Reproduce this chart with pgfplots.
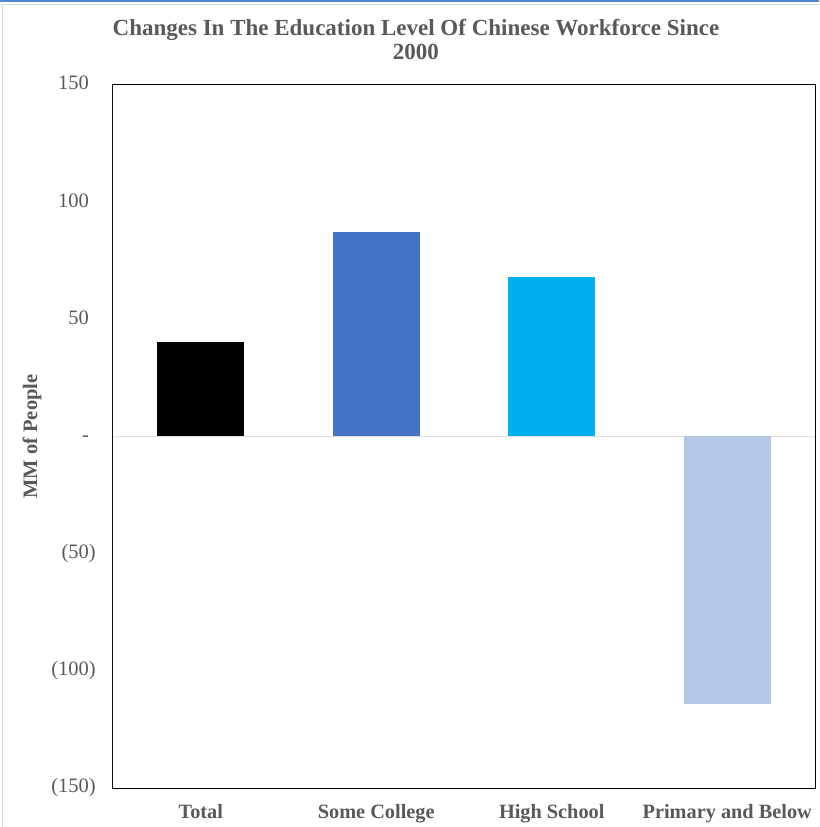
\documentclass[border=0pt]{standalone}
\usepackage{fontspec}
\setmainfont{Liberation Serif}
\usepackage{pgfplots}
\pgfplotsset{compat=1.18}
\definecolor{txt}{HTML}{595959}
\definecolor{cCol}{HTML}{4472C4}
\definecolor{cHS}{HTML}{00B0F0}
\definecolor{cPr}{HTML}{B4C7E7}
\begin{document}
\begin{tikzpicture}
\useasboundingbox (-113pt,-39pt) rectangle (706pt,788pt);
\fill[white] (-113pt,-39pt) rectangle (706pt,788pt);
\draw[black!15, line width=1pt] (-110pt,-39pt) -- (-110pt,783pt) -- (706pt,783pt);
\draw[color={rgb,255:red,74;green,134;blue,200}, line width=2pt] (-113pt,787pt) -- (706pt,787pt);
\begin{axis}[
  scale only axis,
  width=702pt, height=703pt,
  xmin=-0.5, xmax=3.5,
  ymin=-150, ymax=150,
  ytick={-150,-100,-50,0,50,100,150},
  yticklabels={(150),(100),(50),{-\phantom{)}},{50\phantom{)}},{100\phantom{)}},{150\phantom{)}}},
  xtick={0,1,2,3},
  xticklabels={Total,Some College,High School,Primary and Below},
  major tick length=0pt,
  tick style={draw=none},
  axis line style={black, line width=1pt},
  yticklabel style={font=\fontsize{20.5}{22}\selectfont\color{txt}, anchor=east, inner sep=0pt, xshift=-17pt},
  xticklabel style={font=\bfseries\fontsize{20.3}{22}\selectfont\color{txt}, anchor=north, inner sep=0pt, yshift=-16pt},
  ylabel={MM of People},
  ylabel style={font=\bfseries\fontsize{20.5}{22}\selectfont\color{txt}, at={(axis description cs:-0.1154,0.5)}, anchor=center},
  title={Changes In The Education Level Of Chinese Workforce Since\\2000},
  title style={font=\bfseries\fontsize{23}{24}\selectfont\color{txt}, align=center, at={(axis description cs:0.4316,1)}, anchor=south, yshift=16pt},
  extra y ticks={0},
  extra y tick labels={},
  extra y tick style={grid=major, major grid style={draw=black!12, line width=1.5pt}},
  ybar, bar shift=0pt, bar width=87pt,
]
\addplot[fill=black, draw=none] coordinates {(0,40.5)};
\addplot[fill=cCol, draw=none] coordinates {(1,87.1)};
\addplot[fill=cHS, draw=none] coordinates {(2,67.9)};
\addplot[fill=cPr, draw=none] coordinates {(3,-114)};
\draw[black!50, line width=1pt] (rel axis cs:0,0) -- (rel axis cs:0,1);
\end{axis}
\end{tikzpicture}
\end{document}
